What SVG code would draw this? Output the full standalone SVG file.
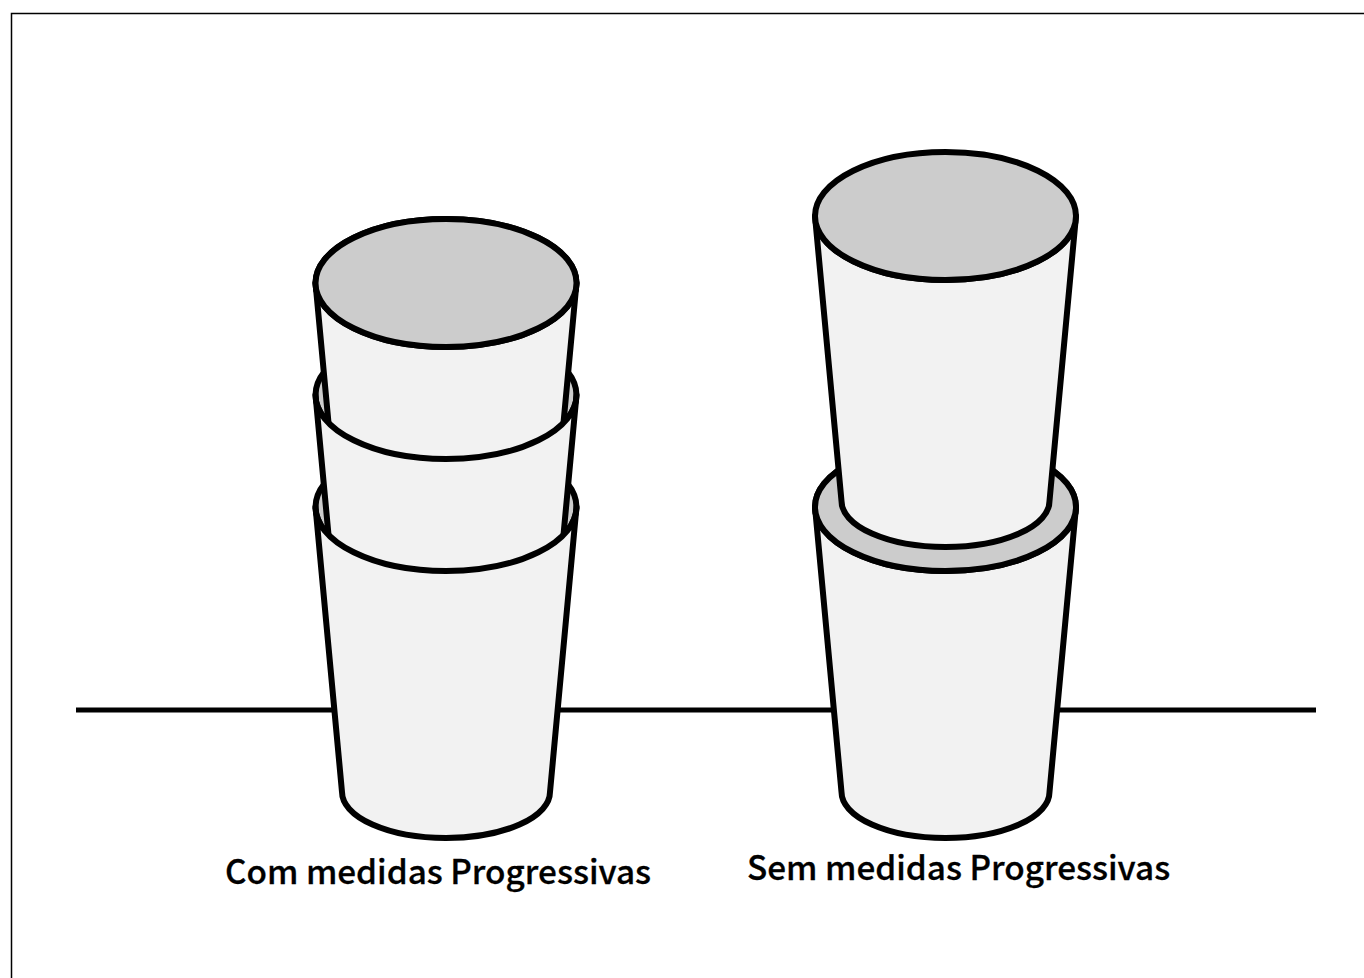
<svg xmlns="http://www.w3.org/2000/svg" width="1364" height="978" viewBox="0 0 1364 978">
  <style>
    .rim { fill: #cccccc; stroke: #000; stroke-width: 6; }
    .body { fill: #f2f2f2; stroke: #000; stroke-width: 6; stroke-linejoin: round; }
    .ground { stroke: #000; stroke-width: 5; fill: none; }
    .frame { stroke: #000; stroke-width: 1.500; fill: none; }
    .label { font-family: "Noto Sans CJK SC", "Noto Sans", sans-serif; font-size: 33.300px; font-weight: 500; fill: #000; stroke: #000; stroke-width: 0.300; }
  </style>
  <defs>
    <ellipse id="cup-rim" class="rim" cx="0" cy="0" rx="130.500" ry="64"/>
    <path id="cup-body" class="body" d="M-130.500 0 A130.500 64 0 0 0 130.500 0 L104 285 A104 46 0 0 1 -104 285 Z"/>
  </defs>

  <rect id="page" width="1364" height="978" fill="#fff"/>
  <path class="frame" d="M11.500 978 V13.500 H1364"/>

  <g id="connectors">
    <path class="ground" d="M76 710 H1316"/>
  </g>

  <!-- Left stack: rims go down first, bodies overlap from the top down -->
  <g id="stack-left">
    <use href="#cup-rim" x="446" y="507"/>
    <use href="#cup-rim" x="446" y="395"/>
    <use href="#cup-rim" x="446" y="283"/>
    <use href="#cup-body" x="446" y="283"/>
    <use href="#cup-body" x="446" y="395"/>
    <use href="#cup-body" x="446" y="507"/>
    <use href="#cup-rim" x="446" y="283"/>
  </g>

  <!-- Right stack: the upper cup rests on the open rim of the lower one -->
  <g id="stack-right">
    <use href="#cup-rim" x="945.500" y="507"/>
    <use href="#cup-body" x="945.500" y="507"/>
    <use href="#cup-rim" x="945.500" y="507"/>
    <use href="#cup-body" x="945.500" y="216"/>
    <use href="#cup-rim" x="945.500" y="216"/>
  </g>

  <g id="label-left"><text class="label" x="225" y="884">Com medidas Progressivas</text></g>
  <g id="label-right"><text class="label" x="747" y="880">Sem medidas Progressivas</text></g>
</svg>
